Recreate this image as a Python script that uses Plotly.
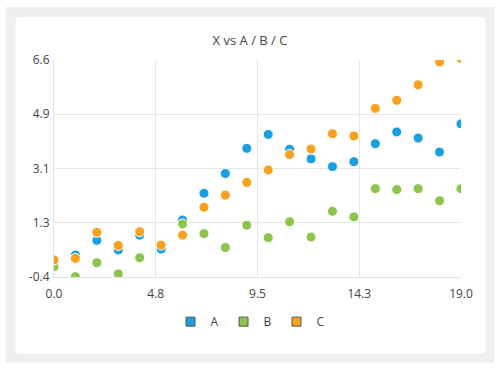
import plotly.graph_objects as go

x_vals = list(range(20))
series_a = [0.15, 0.31, 0.78, 0.47, 0.95, 0.50, 1.44, 2.30, 2.94, 3.75,
            4.20, 3.72, 3.41, 3.16, 3.32, 3.90, 4.28, 4.08, 3.63, 4.54]
series_b = [-0.07, -0.39, 0.06, -0.30, 0.22, -0.60, 1.31, 1.00, 0.55, 1.27,
            0.87, 1.38, 0.89, 1.72, 1.54, 2.45, 2.42, 2.45, 2.06, 2.45]
series_c = [0.15, 0.20, 1.04, 0.62, 1.06, 0.63, 0.95, 1.85, 2.24, 2.65,
            3.05, 3.55, 3.73, 4.22, 4.15, 5.04, 5.30, 5.80, 6.54, 6.65]
names = ["A", "B", "C"]
colors = ["#1a9fe0", "#8cc44c", "#f7a11e"]

x_tickvals = [0, 4.75, 9.5, 14.25, 19]
x_ticktext = ["0.0", "4.8", "9.5", "14.3", "19.0"]
y_tickvals = [-0.4, 1.35, 3.1, 4.85, 6.6]
y_ticktext = ["-0.4", "1.3", "3.1", "4.9", "6.6"]

W, H = 500, 370
L, R, T, B = 53.5, 461.5, 60, 277.3
def px(x):
    return (x - L) / (R - L)
def py(y):
    return (B - y) / (B - T)

fig = go.Figure()
for name, vals, col in zip(names, [series_a, series_b, series_c], colors):
    fig.add_trace(go.Scatter(
        x=x_vals, y=vals, mode="markers", name=name, showlegend=False,
        marker=dict(size=10, color=col, line=dict(color="white", width=1)),
        hoverinfo="x+y",
    ))
for name, col in zip(names, colors):
    fig.add_trace(go.Scatter(
        x=[None], y=[None], mode="markers", name=name,
        marker=dict(symbol="square", size=9, color=col,
                    line=dict(color="#555555", width=1)),
    ))

def rounded(x0, y0, x1, y1, r):
    return (f"M {px(x0+r)},{py(y0)} L {px(x1-r)},{py(y0)} "
            f"Q {px(x1)},{py(y0)} {px(x1)},{py(y0+r)} "
            f"L {px(x1)},{py(y1-r)} Q {px(x1)},{py(y1)} {px(x1-r)},{py(y1)} "
            f"L {px(x0+r)},{py(y1)} Q {px(x0)},{py(y1)} {px(x0)},{py(y1-r)} "
            f"L {px(x0)},{py(y0+r)} Q {px(x0)},{py(y0)} {px(x0+r)},{py(y0)} Z")

fig.update_layout(
    width=W, height=H,
    margin=dict(l=L, r=W - R, t=T, b=H - B, autoexpand=False),
    paper_bgcolor="white", plot_bgcolor="rgba(0,0,0,0)",
    font=dict(family="Open Sans, Noto Sans, sans-serif", size=12, color="#444444"),
    title=dict(text="X vs A / B / C", x=0.5, xref="container", xanchor="center",
               y=1 - 40 / H, yref="container", yanchor="middle",
               font=dict(size=13, color="#444444")),
    shapes=[
        dict(type="rect", xref="paper", yref="paper", layer="below",
             x0=px(5), x1=px(495), y0=py(363), y1=py(7),
             fillcolor="#efefef", line=dict(width=0)),
        dict(type="path", xref="paper", yref="paper", layer="below",
             path=rounded(15, 17, 486, 354, 4),
             fillcolor="white", line=dict(width=0)),
    ],
    legend=dict(orientation="h", x=px(250), xanchor="center", y=py(322),
                yanchor="middle", font=dict(size=12, color="#444444"),
                itemwidth=30, bgcolor="rgba(0,0,0,0)"),
    xaxis=dict(range=[0, 19], tickvals=x_tickvals, ticktext=x_ticktext,
               showgrid=True, gridcolor="#e6e6e6", gridwidth=1,
               showline=True, linecolor="#e0e0e0", zeroline=False,
               ticks="", ticklabelstandoff=6, fixedrange=True),
    yaxis=dict(range=[-0.4, 6.6], tickvals=y_tickvals, ticktext=y_ticktext,
               showgrid=True, gridcolor="#e6e6e6", gridwidth=1,
               showline=True, linecolor="#e0e0e0", zeroline=False,
               ticks="", ticklabelstandoff=1, fixedrange=True),
)

fig.write_html("out.html", config={"displayModeBar": False},
               post_script="document.body.style.margin='0';document.body.style.overflow='hidden';")
